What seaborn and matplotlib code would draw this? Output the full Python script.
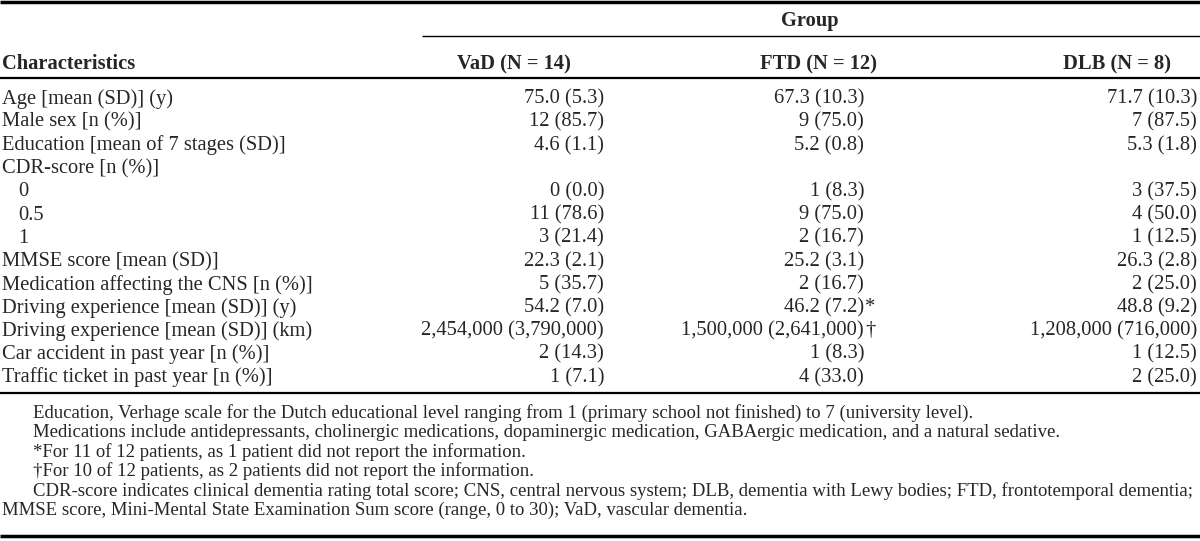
import matplotlib
matplotlib.use("Agg")
import matplotlib.pyplot as plt
import seaborn as sns

# table content
characteristics = [
    "Age [mean (SD)] (y)",
    "Male sex [n (%)]",
    "Education [mean of 7 stages (SD)]",
    "CDR-score [n (%)]",
    "0",
    "0.5",
    "1",
    "MMSE score [mean (SD)]",
    "Medication affecting the CNS [n (%)]",
    "Driving experience [mean (SD)] (y)",
    "Driving experience [mean (SD)] (km)",
    "Car accident in past year [n (%)]",
    "Traffic ticket in past year [n (%)]",
]
indented = [False, False, False, False, True, True, True, False, False, False, False, False, False]
groups = ["VaD (N = 14)", "FTD (N = 12)", "DLB (N = 8)"]
vad = ["75.0 (5.3)", "12 (85.7)", "4.6 (1.1)", "", "0 (0.0)", "11 (78.6)", "3 (21.4)",
       "22.3 (2.1)", "5 (35.7)", "54.2 (7.0)", "2,454,000 (3,790,000)", "2 (14.3)", "1 (7.1)"]
ftd = ["67.3 (10.3)", "9 (75.0)", "5.2 (0.8)", "", "1 (8.3)", "9 (75.0)", "2 (16.7)",
       "25.2 (3.1)", "2 (16.7)", "46.2 (7.2)", "1,500,000 (2,641,000)", "1 (8.3)", "4 (33.0)"]
ftd_marks = ["", "", "", "", "", "", "", "", "", "*", "\u2020", "", ""]
dlb = ["71.7 (10.3)", "7 (87.5)", "5.3 (1.8)", "", "3 (37.5)", "4 (50.0)", "1 (12.5)",
       "26.3 (2.8)", "2 (25.0)", "48.8 (9.2)", "1,208,000 (716,000)", "1 (12.5)", "2 (25.0)"]
footnotes = [
    "Education, Verhage scale for the Dutch educational level ranging from 1 (primary school not finished) to 7 (university level).",
    "Medications include antidepressants, cholinergic medications, dopaminergic medication, GABAergic medication, and a natural sedative.",
    "*For 11 of 12 patients, as 1 patient did not report the information.",
    "\u2020For 10 of 12 patients, as 2 patients did not report the information.",
    "CDR-score indicates clinical dementia rating total score; CNS, central nervous system; DLB, dementia with Lewy bodies; FTD, frontotemporal dementia;",
    "MMSE score, Mini-Mental State Examination Sum score (range, 0 to 30); VaD, vascular dementia.",
]
footnote_indent = [True, True, True, True, True, False]

sns.set_theme(style="white")
plt.rcParams["font.family"] = ["Liberation Serif", "DejaVu Serif"]

W, H = 1200, 541
fig = plt.figure(figsize=(W / 100, H / 100), dpi=100)
ax = fig.add_axes([0, 0, 1, 1])
ax.set_xlim(0, W)
ax.set_ylim(H, 0)
ax.axis("off")

fs = 14.8
fs_note = 13.5
col_right = [604, 864, 1197]
head_center = [514, 819, 1117]

# rules
ax.hlines(2, 0, W, color="black", lw=2.5)
ax.hlines(36, 422, W, color="black", lw=1.0)
ax.hlines(78, 0, W, color="black", lw=1.6)
ax.hlines(393, 0, W, color="black", lw=1.6)
ax.hlines(536, 0, W, color="black", lw=2.5)

# header
ax.text(810, 21, "Group", ha="center", va="center", fontsize=fs, fontweight="bold")
ax.text(2, 64, "Characteristics", ha="left", va="center", fontsize=fs, fontweight="bold")
for x, g in zip(head_center, groups):
    ax.text(x, 64, g, ha="center", va="center", fontsize=fs, fontweight="bold")

# body
row0, step = 99, 23.2
for i, label in enumerate(characteristics):
    y = row0 + i * step
    ax.text(18 if indented[i] else 2, y, label, ha="left", va="center", fontsize=fs)
    for x, vals in zip(col_right, [vad, ftd, dlb]):
        ax.text(x, y, vals[i], ha="right", va="center", fontsize=fs)
    if ftd_marks[i]:
        ax.text(col_right[1] + 1, y, ftd_marks[i], ha="left", va="center", fontsize=fs)

# footnotes
note0, note_step = 413, 19.5
for i, note in enumerate(footnotes):
    ax.text(33 if footnote_indent[i] else 2, note0 + i * note_step, note,
            ha="left", va="center", fontsize=fs_note)

fig.savefig("out.png", dpi=100)
